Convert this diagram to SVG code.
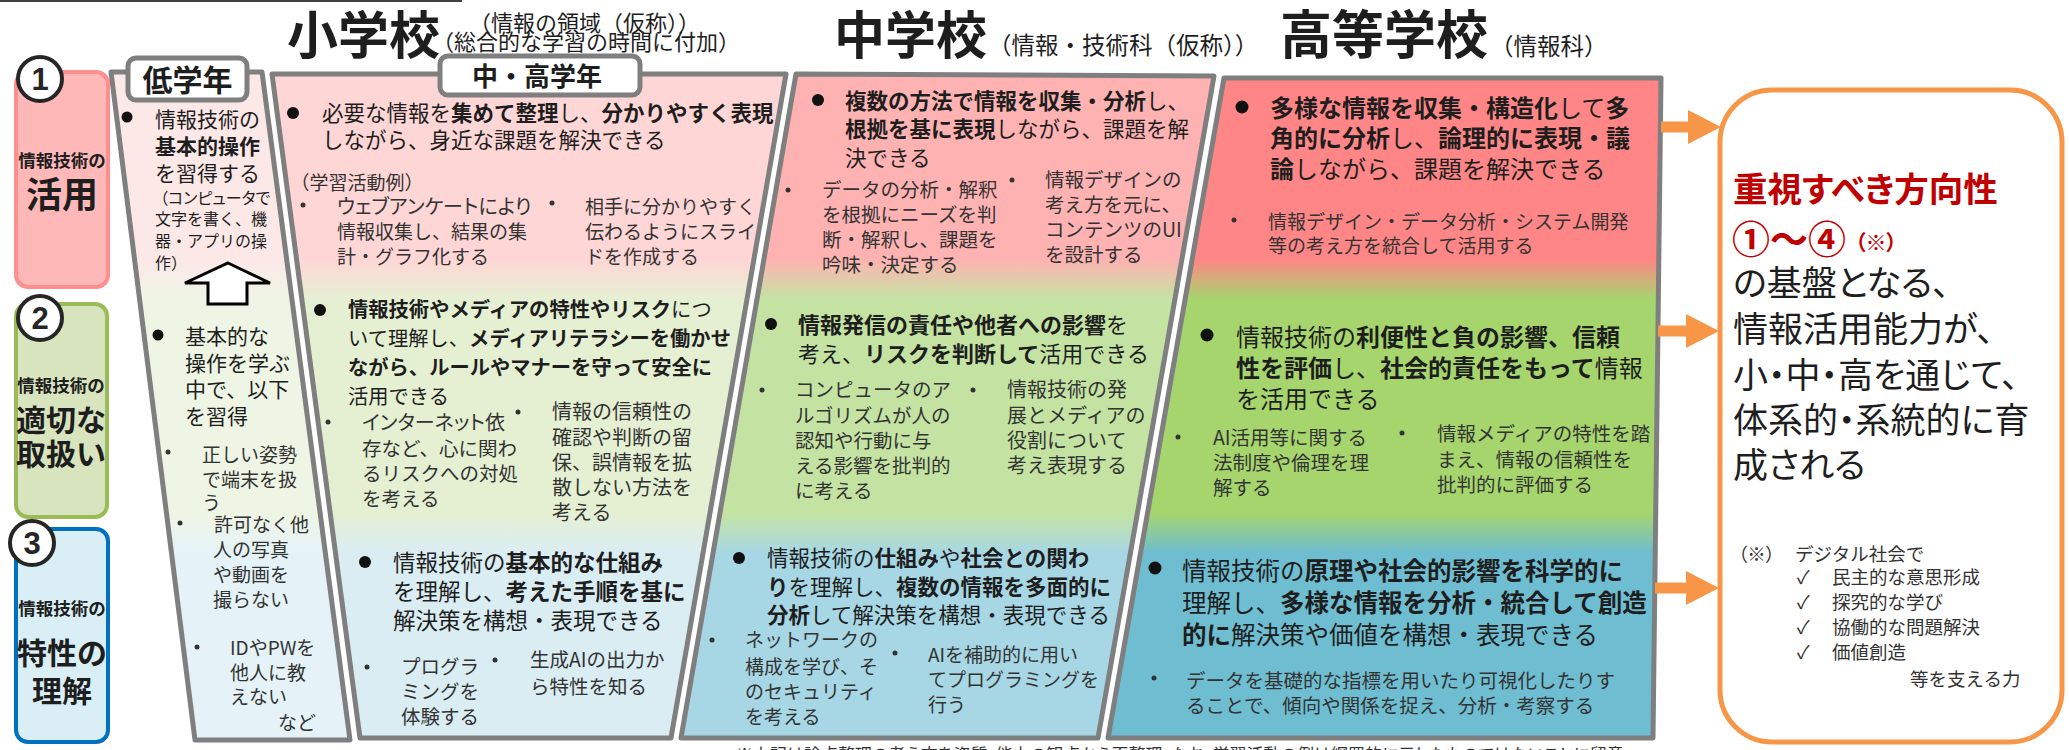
<svg xmlns="http://www.w3.org/2000/svg" width="2069" height="750" viewBox="0 0 2069 750">
<style>
text{font-family:"Noto Sans CJK JP","Noto Sans CJK SC",sans-serif;fill:#1e1e1e}
.pl{font-feature-settings:"palt" 1}
.b{font-weight:700}
.s{fill:#333333}
.cm{text-anchor:middle;font-weight:700}
.num{fill:#ffffff;stroke:#262626;stroke-width:4}
.numt{font-family:"Liberation Sans",Arial,sans-serif;font-weight:700;font-size:31px;text-anchor:middle;fill:#262626}
.panel{stroke:#7f7f7f;stroke-width:5;stroke-linejoin:round}
.label{fill:#ffffff;stroke:#7f7f7f;stroke-width:5}
.dot{fill:#111111}
.sd{fill:#333333}
.arrow{fill:#F79646}
.red{fill:#C00000}
</style>
<defs>
<linearGradient id="gLow" gradientUnits="userSpaceOnUse" x1="0" y1="72" x2="0" y2="740">
<stop offset="0.28" stop-color="#FDE8E8"/><stop offset="0.34" stop-color="#EFF5E5"/><stop offset="0.66" stop-color="#EFF5E5"/><stop offset="0.72" stop-color="#E5F3F8"/>
</linearGradient>
<linearGradient id="gMid" gradientUnits="userSpaceOnUse" x1="0" y1="72" x2="0" y2="740">
<stop offset="0.28" stop-color="#FFD6D6"/><stop offset="0.34" stop-color="#E5F0D3"/><stop offset="0.66" stop-color="#E5F0D3"/><stop offset="0.72" stop-color="#DAEDF3"/>
</linearGradient>
<linearGradient id="gJhs" gradientUnits="userSpaceOnUse" x1="0" y1="72" x2="0" y2="740">
<stop offset="0.28" stop-color="#FFB2B2"/><stop offset="0.34" stop-color="#C4E3A2"/><stop offset="0.66" stop-color="#C4E3A2"/><stop offset="0.72" stop-color="#A7D7E5"/>
</linearGradient>
<linearGradient id="gHs" gradientUnits="userSpaceOnUse" x1="0" y1="72" x2="0" y2="740">
<stop offset="0.28" stop-color="#FF8686"/><stop offset="0.34" stop-color="#A6D56E"/><stop offset="0.66" stop-color="#A6D56E"/><stop offset="0.72" stop-color="#6EBDD1"/>
</linearGradient>
</defs>
<rect width="2069" height="750" fill="#ffffff"/>
<line x1="0" y1="1" x2="462" y2="1" stroke="#404040" stroke-width="2"/>

<g id="titles">
<text class="b" x="287" y="54" font-size="51">小学校</text>
<text x="469" y="31" font-size="22">（情報の領域（仮称））</text>
<text x="432" y="50" font-size="22">（総合的な学習の時間に付加）</text>
<text class="b" x="834" y="54" font-size="51">中学校</text>
<text x="988" y="54" font-size="23.5">（情報・技術科（仮称））</text>
<text class="b" x="1280" y="54" font-size="52">高等学校</text>
<text x="1490" y="55" font-size="23.5">（情報科）</text>
</g>

<g id="cat-1">
<rect x="16" y="72" width="92" height="215" rx="12" fill="#FFB8B8" stroke="#FF8E8E" stroke-width="4"/>
<text class="cm" x="62" y="167" font-size="17.5">情報技術の</text>
<text class="cm" x="62" y="208" font-size="36">活用</text>
<circle class="num" cx="40" cy="79" r="22"/>
<text class="numt" x="40" y="90">1</text>
</g>
<g id="cat-2">
<rect x="16" y="304" width="91" height="213" rx="12" fill="#D7E4BD" stroke="#9BBB59" stroke-width="4"/>
<text class="cm" x="61" y="392" font-size="17.5">情報技術の</text>
<text class="cm" x="61" y="431" font-size="30">適切な</text>
<text class="cm" x="61" y="465" font-size="30">取扱い</text>
<circle class="num" cx="40" cy="318" r="22"/>
<text class="numt" x="40" y="329">2</text>
</g>
<g id="cat-3">
<rect x="16" y="529" width="92" height="213" rx="12" fill="#D9EEF5" stroke="#0070C0" stroke-width="4"/>
<text class="cm" x="62" y="615" font-size="17.5">情報技術の</text>
<text class="cm" x="62" y="664" font-size="30">特性の</text>
<text class="cm" x="62" y="702" font-size="30">理解</text>
<circle class="num" cx="32" cy="543" r="22"/>
<text class="numt" x="32" y="554">3</text>
</g>

<g id="panel-lower">
<polygon class="panel" points="111,72 262,72 350,740 195,740" fill="url(#gLow)"/>
<rect class="label" x="128" y="58" width="119" height="42" rx="8"/>
<text class="cm" x="187.5" y="91" font-size="30">低学年</text>
<circle class="dot" cx="127" cy="117" r="5.5"/>
<text font-size="21" x="155" y="127">情報技術の</text>
<text font-size="21" class="b" x="155" y="154">基本的操作</text>
<text font-size="21" x="155" y="181">を習得する</text>
<text font-size="16" class="pl" x="160" y="204">（コンピュータで</text>
<text font-size="16" x="155" y="225">文字を書く、機</text>
<text font-size="16" x="155" y="247">器・アプリの操</text>
<text font-size="16" x="155" y="269">作）</text>
<polygon points="228,263 270,283 247,283 247,304 208,304 208,283 185,283" fill="#ffffff" stroke="#000000" stroke-width="3"/>
<circle class="dot" cx="158" cy="335" r="5.5"/>
<text font-size="21" x="185" y="344">基本的な</text>
<text font-size="21" x="185" y="371">操作を学ぶ</text>
<text font-size="21" x="185" y="397">中で、以下</text>
<text font-size="21" x="185" y="424">を習得</text>
<circle class="sd" cx="168" cy="452" r="2.5"/>
<text font-size="19" class="s" x="202" y="462">正しい姿勢</text>
<text font-size="19" class="s" x="202" y="487">で端末を扱</text>
<text font-size="19" class="s" x="202" y="510">う</text>
<circle class="sd" cx="180" cy="523" r="2.5"/>
<text font-size="19" class="s" x="214" y="532">許可なく他</text>
<text font-size="19" class="s" x="213" y="557">人の写真</text>
<text font-size="19" class="s" x="213" y="582">や動画を</text>
<text font-size="19" class="s" x="213" y="607">撮らない</text>
<circle class="sd" cx="197" cy="647" r="2.5"/>
<text font-size="19" class="s" x="230" y="655">IDやPWを</text>
<text font-size="19" class="s" x="230" y="680">他人に教</text>
<text font-size="19" class="s" x="230" y="704">えない</text>
<text font-size="19" class="s" x="278" y="730">など</text>
</g>

<g id="panel-middle-upper">
<polygon class="panel" points="272,74 786,74 671,738 360,738" fill="url(#gMid)"/>
<rect class="label" x="440" y="56" width="200" height="39" rx="8"/>
<text class="cm" x="537" y="86" font-size="26">中・高学年</text>
<circle class="dot" cx="293" cy="113" r="6"/>
<text font-size="21.5" x="322" y="121">必要な情報を<tspan class="b">集めて整理</tspan>し、<tspan class="b">分かりやすく表現</tspan></text>
<text font-size="21.5" x="322" y="148">しながら、身近な課題を解決できる</text>
<text font-size="19" class="s" x="290.5" y="190">（学習活動例）</text>
<circle class="sd" cx="303" cy="205" r="2.5"/>
<text font-size="20" class="s pl" x="337" y="214">ウェブアンケートにより</text>
<text font-size="19" class="s" x="337" y="239">情報収集し、結果の集</text>
<text font-size="19" class="s" x="337" y="264">計・グラフ化する</text>
<circle class="sd" cx="552" cy="203" r="2.5"/>
<text font-size="19" class="s" x="585" y="214">相手に分かりやすく</text>
<text font-size="19" class="s" x="585" y="239">伝わるようにスライ</text>
<text font-size="19" class="s" x="585" y="264">ドを作成する</text>
<circle class="dot" cx="320" cy="310" r="6"/>
<text font-size="20.3" x="348" y="317"><tspan class="b">情報技術やメディアの特性やリスク</tspan>につ</text>
<text font-size="20.3" x="348" y="346">いて理解し、<tspan class="b">メディアリテラシーを働かせ</tspan></text>
<text font-size="20.3" class="b" x="348" y="375">ながら、ルールやマナーを守って安全に</text>
<text font-size="20.3" x="348" y="404">活用できる</text>
<circle class="sd" cx="328" cy="422" r="2.5"/>
<text font-size="20" class="s pl" x="362" y="430">インターネット依</text>
<text font-size="19.5" class="s" x="362" y="456">存など、心に関わ</text>
<text font-size="19.5" class="s" x="362" y="481">るリスクへの対処</text>
<text font-size="19.5" class="s" x="362" y="506">を考える</text>
<circle class="sd" cx="518" cy="412" r="2.5"/>
<text font-size="20" class="s" x="552" y="419">情報の信頼性の</text>
<text font-size="20" class="s" x="552" y="445">確認や判断の留</text>
<text font-size="20" class="s" x="552" y="470">保、誤情報を拡</text>
<text font-size="20" class="s" x="552" y="495">散しない方法を</text>
<text font-size="20" class="s" x="552" y="520">考える</text>
<circle class="dot" cx="365" cy="562" r="6"/>
<text font-size="22.5" x="393" y="571">情報技術の<tspan class="b">基本的な仕組み</tspan></text>
<text font-size="22.5" x="393" y="600">を理解し、<tspan class="b">考えた手順を基に</tspan></text>
<text font-size="22.5" x="393" y="629">解決策を構想・表現できる</text>
<circle class="sd" cx="367" cy="667" r="2.5"/>
<text font-size="19.5" class="s" x="401" y="674">プログラ</text>
<text font-size="19.5" class="s" x="401" y="699">ミングを</text>
<text font-size="19.5" class="s" x="401" y="724">体験する</text>
<circle class="sd" cx="495" cy="660" r="2.5"/>
<text font-size="19.5" class="s" x="530" y="667">生成AIの出力か</text>
<text font-size="19.5" class="s" x="530" y="694">ら特性を知る</text>
</g>

<g id="panel-junior-high">
<polygon class="panel" points="796,74 1214,76 1098,738 681,738" fill="url(#gJhs)"/>
<circle class="dot" cx="818" cy="100" r="6"/>
<text font-size="21.5" x="845" y="109"><tspan class="b">複数の方法で情報を収集・分析</tspan>し、</text>
<text font-size="21.5" x="845" y="137"><tspan class="b">根拠を基に表現</tspan>しながら、課題を解</text>
<text font-size="21.5" x="845" y="166">決できる</text>
<circle class="sd" cx="788" cy="190" r="2.5"/>
<text font-size="19.5" class="s" x="822" y="197">データの分析・解釈</text>
<text font-size="19.5" class="s" x="822" y="222">を根拠にニーズを判</text>
<text font-size="19.5" class="s" x="822" y="247">断・解釈し、課題を</text>
<text font-size="19.5" class="s" x="822" y="272">吟味・決定する</text>
<circle class="sd" cx="1012" cy="180" r="2.5"/>
<text font-size="19.5" class="s" x="1045" y="187">情報デザインの</text>
<text font-size="19.5" class="s" x="1045" y="212">考え方を元に、</text>
<text font-size="19.5" class="s" x="1045" y="237">コンテンツのUI</text>
<text font-size="19.5" class="s" x="1045" y="262">を設計する</text>
<circle class="dot" cx="771" cy="324" r="6"/>
<text font-size="22" x="798" y="333"><tspan class="b">情報発信の責任や他者への影響</tspan>を</text>
<text font-size="22" x="798" y="362">考え、<tspan class="b">リスクを判断して</tspan>活用できる</text>
<circle class="sd" cx="762" cy="390" r="2.5"/>
<text font-size="19.5" class="s" x="795" y="397">コンピュータのア</text>
<text font-size="19.5" class="s" x="795" y="423">ルゴリズムが人の</text>
<text font-size="19.5" class="s" x="795" y="448">認知や行動に与</text>
<text font-size="19.5" class="s" x="795" y="473">える影響を批判的</text>
<text font-size="19.5" class="s" x="795" y="498">に考える</text>
<circle class="sd" cx="973" cy="390" r="2.5"/>
<text font-size="20" class="s" x="1007" y="397">情報技術の発</text>
<text font-size="20" class="s" x="1007" y="423">展とメディアの</text>
<text font-size="20" class="s" x="1007" y="448">役割について</text>
<text font-size="20" class="s" x="1007" y="473">考え表現する</text>
<circle class="dot" cx="739" cy="558" r="6"/>
<text font-size="21.5" x="767" y="566">情報技術の<tspan class="b">仕組み</tspan>や<tspan class="b">社会との関わ</tspan></text>
<text font-size="21.5" x="767" y="595"><tspan class="b">り</tspan>を理解し、<tspan class="b">複数の情報を多面的に</tspan></text>
<text font-size="21.5" x="767" y="623"><tspan class="b">分析</tspan>して解決策を構想・表現できる</text>
<circle class="sd" cx="712" cy="640" r="2.5"/>
<text font-size="19" class="s" x="745" y="647">ネットワークの</text>
<text font-size="19" class="s" x="745" y="674">構成を学び、そ</text>
<text font-size="19" class="s" x="745" y="699">のセキュリティ</text>
<text font-size="19" class="s" x="745" y="724">を考える</text>
<circle class="sd" cx="895" cy="653" r="2.5"/>
<text font-size="19" class="s" x="928" y="662">AIを補助的に用い</text>
<text font-size="19" class="s" x="928" y="687">てプログラミングを</text>
<text font-size="19" class="s" x="928" y="712">行う</text>
</g>

<g id="panel-high">
<polygon class="panel" points="1224,78 1661,78 1653,738 1108,738" fill="url(#gHs)"/>
<circle class="dot" cx="1242" cy="107" r="6.5"/>
<text font-size="24" x="1270" y="117"><tspan class="b">多様な情報を収集・構造化</tspan>して<tspan class="b">多</tspan></text>
<text font-size="24" x="1270" y="147"><tspan class="b">角的に分析</tspan>し、<tspan class="b">論理的に表現・議</tspan></text>
<text font-size="24" x="1270" y="178"><tspan class="b">論</tspan>しながら、課題を解決できる</text>
<circle class="sd" cx="1234" cy="220" r="2.5"/>
<text font-size="19" class="s" x="1268" y="229">情報デザイン・データ分析・システム開発</text>
<text font-size="19" class="s" x="1268" y="253">等の考え方を統合して活用する</text>
<circle class="dot" cx="1207" cy="335" r="6.5"/>
<text font-size="24" x="1236" y="346">情報技術の<tspan class="b">利便性と負の影響、信頼</tspan></text>
<text font-size="24" x="1236" y="377"><tspan class="b">性を評価</tspan>し、<tspan class="b">社会的責任をもって</tspan>情報</text>
<text font-size="24" x="1236" y="408">を活用できる</text>
<circle class="sd" cx="1178" cy="437" r="2.5"/>
<text font-size="19.5" class="s" x="1213" y="445">AI活用等に関する</text>
<text font-size="19.5" class="s" x="1213" y="470">法制度や倫理を理</text>
<text font-size="19.5" class="s" x="1213" y="495">解する</text>
<circle class="sd" cx="1402" cy="433" r="2.5"/>
<text font-size="19.5" class="s" x="1437" y="441">情報メディアの特性を踏</text>
<text font-size="19.5" class="s" x="1437" y="467">まえ、情報の信頼性を</text>
<text font-size="19.5" class="s" x="1437" y="492">批判的に評価する</text>
<circle class="dot" cx="1155" cy="568" r="6.5"/>
<text font-size="24.5" x="1182" y="580">情報技術の<tspan class="b">原理や社会的影響を科学的に</tspan></text>
<text font-size="24.5" x="1182" y="612">理解し、<tspan class="b">多様な情報を分析・統合して創造</tspan></text>
<text font-size="24.5" x="1182" y="644"><tspan class="b">的に</tspan>解決策や価値を構想・表現できる</text>
<circle class="sd" cx="1154" cy="678" r="2.5"/>
<text font-size="19.5" class="s" x="1186" y="688">データを基礎的な指標を用いたり可視化したりす</text>
<text font-size="19.5" class="s" x="1186" y="713">ることで、傾向や関係を捉え、分析・考察する</text>
</g>

<g id="connectors">
<polygon class="arrow" points="1661,121.5 1688,121.5 1688,110 1721,127 1688,144 1688,132.5 1661,132.5"/>
<polygon class="arrow" points="1658,325.5 1686,325.5 1686,314 1719,331 1686,348 1686,336.5 1658,336.5"/>
<polygon class="arrow" points="1655,582.5 1686,582.5 1686,571 1719,588 1686,605 1686,593.5 1655,593.5"/>
</g>

<g id="result">
<rect x="1720" y="90" width="342" height="652" rx="52" fill="#ffffff" stroke="#F79646" stroke-width="5"/>
<text class="b red pl" x="1733" y="202" font-size="34.5">重視すべき方向性</text>
<text class="b red pl" x="1732" y="253" font-size="38">①～④<tspan font-size="21" dx="9" dy="-3">（※）</tspan></text>
<text class="pl" x="1733" y="296" font-size="35">の基盤となる、</text>
<text class="pl" x="1733" y="342" font-size="35">情報活用能力が、</text>
<text class="pl" x="1733" y="388" font-size="35">小・中・高を通じて、</text>
<text class="pl" x="1733" y="433" font-size="35">体系的・系統的に育</text>
<text class="pl" x="1733" y="478" font-size="35">成される</text>
<text class="s pl" x="1738" y="561" font-size="18.5">（※）</text>
<text class="s" x="1795" y="561" font-size="18.5">デジタル社会で</text>
<text class="s" x="1797" y="584" font-size="18.5">✓</text>
<text class="s" x="1832" y="584" font-size="18.5">民主的な意思形成</text>
<text class="s" x="1797" y="609" font-size="18.5">✓</text>
<text class="s" x="1832" y="609" font-size="18.5">探究的な学び</text>
<text class="s" x="1797" y="634" font-size="18.5">✓</text>
<text class="s" x="1832" y="634" font-size="18.5">協働的な問題解決</text>
<text class="s" x="1797" y="659" font-size="18.5">✓</text>
<text class="s" x="1832" y="659" font-size="18.5">価値創造</text>
<text class="s" x="1910" y="686" font-size="18.5">等を支える力</text>
</g>

<text class="s pl" x="736" y="761" font-size="17">※上記は論点整理の考え方を資質・能力の観点から再整理。なお、学習活動の例は網羅的に示したものではないことに留意</text>
</svg>
